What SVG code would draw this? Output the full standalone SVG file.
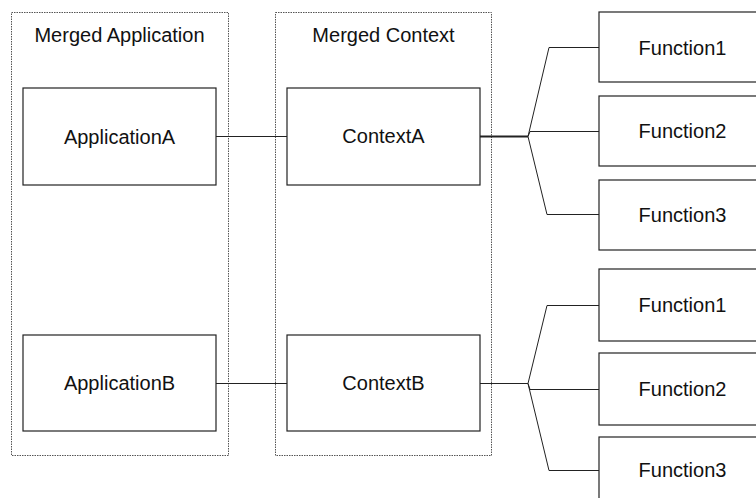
<svg xmlns="http://www.w3.org/2000/svg" width="756" height="498" viewBox="0 0 756 498">
<style>
.outer{fill:none;stroke:#555;stroke-width:1;stroke-dasharray:1.5,1}
.box{fill:#fff;stroke:#222;stroke-width:1.2}
.c{fill:none;stroke:#222;stroke-width:1}
text{font-family:"Liberation Sans",Arial,sans-serif;font-size:20px;fill:#111;text-anchor:middle}
</style>
<rect width="756" height="498" fill="#fff"/>
<g id="merged-application"><rect class="outer" x="11.5" y="12.5" width="217" height="443"/><text x="119.5" y="42">Merged Application</text></g>
<g id="merged-context"><rect class="outer" x="275.5" y="12.5" width="216" height="443"/><text x="383.5" y="42">Merged Context</text></g>
<g id="applicationA"><rect class="box" x="23" y="88" width="193" height="97"/><text x="119.5" y="144">ApplicationA</text></g>
<g id="contextA"><rect class="box" x="287" y="88" width="193" height="97"/><text x="383.5" y="143">ContextA</text></g>
<g id="applicationB"><rect class="box" x="23" y="335" width="193" height="96"/><text x="119.5" y="390">ApplicationB</text></g>
<g id="contextB"><rect class="box" x="287" y="335" width="193" height="96"/><text x="383.5" y="390">ContextB</text></g>
<g id="fA1"><rect class="box" x="599" y="12" width="193" height="70"/><text x="682.5" y="55">Function1</text></g>
<g id="fA2"><rect class="box" x="599" y="96" width="193" height="70"/><text x="682.5" y="138">Function2</text></g>
<g id="fA3"><rect class="box" x="599" y="180" width="193" height="70"/><text x="682.5" y="222">Function3</text></g>
<g id="fB1"><rect class="box" x="599" y="269" width="193" height="72"/><text x="682.5" y="312">Function1</text></g>
<g id="fB2"><rect class="box" x="599" y="353" width="193" height="72"/><text x="682.5" y="396">Function2</text></g>
<g id="fB3"><rect class="box" x="599" y="437" width="193" height="72"/><text x="682.5" y="477">Function3</text></g>
<g id="connectors">
<line class="c" x1="216" y1="136.5" x2="287" y2="136.5"/>
<line class="c" x1="216" y1="383.5" x2="287" y2="383.5"/>
<line class="c" x1="480" y1="136.5" x2="528" y2="136.5" style="stroke-width:2"/>
<polyline class="c" points="528,136.5 549,47.5 599,47.5"/>
<polyline class="c" points="528,136.5 530,131.5 599,131.5"/>
<polyline class="c" points="528,136.5 547,214.5 599,214.5"/>
<line class="c" x1="480" y1="383.5" x2="528" y2="383.5"/>
<polyline class="c" points="528,383.5 547,305.5 599,305.5"/>
<polyline class="c" points="528,383.5 530,389.5 599,389.5"/>
<polyline class="c" points="528,383.5 549,470.5 599,470.5"/>
</g>
</svg>
